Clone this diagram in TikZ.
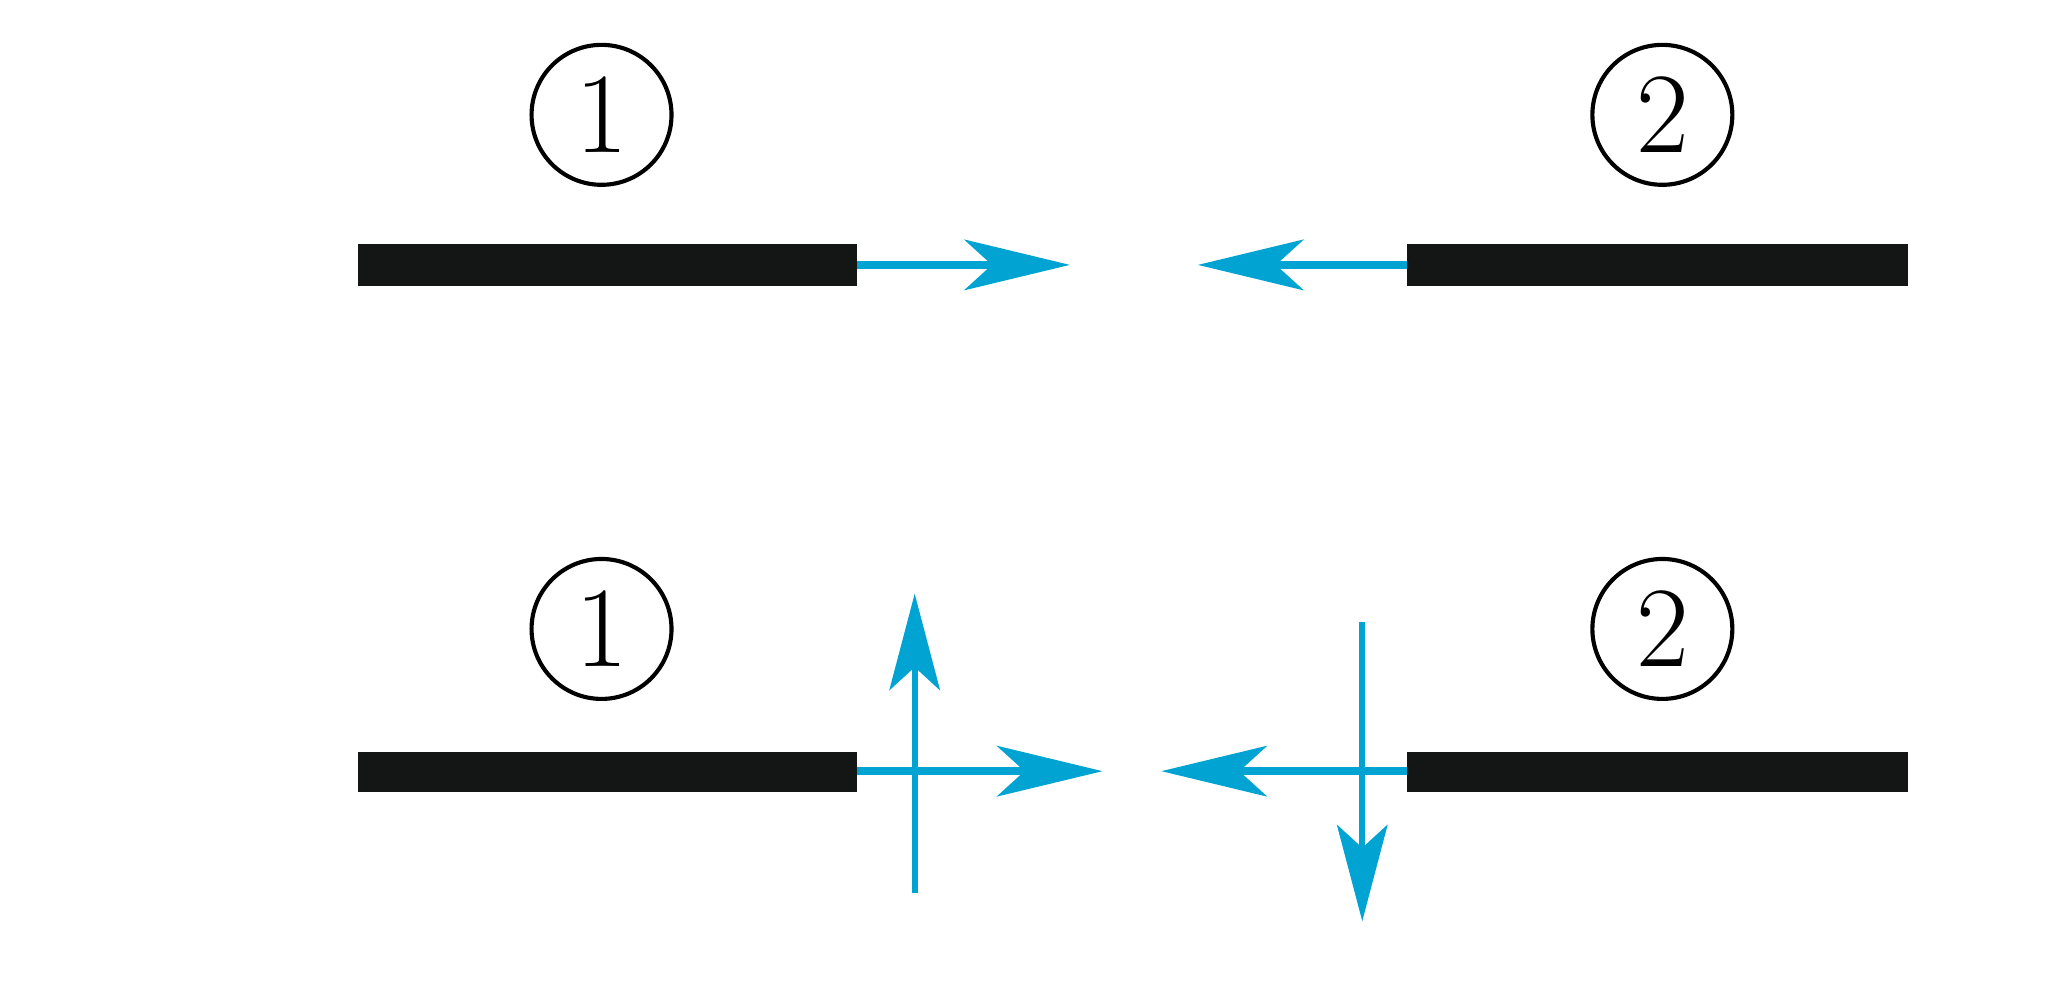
\documentclass[tikz,border=0pt]{standalone}
\usetikzlibrary{arrows.meta}
\definecolor{cy}{HTML}{00A3D2}
\definecolor{bk}{HTML}{141615}
\begin{document}
\begin{tikzpicture}[x=0.01cm,y=-0.01cm,
  bar/.style={fill=bk,draw=none},
  harr/.style={cy,line width=1.7pt,-{Stealth[length=23pt,width=11pt,inset=6pt]}},
  varr/.style={cy,line width=1.3pt,-{Stealth[length=21pt,width=11pt,inset=5pt]}},
  num/.style={circle,draw,line width=0.9pt,minimum size=30.5pt,inner sep=0pt,font=\fontsize{25}{30}\selectfont}]
\useasboundingbox (0,0) rectangle (1568,766);
% top row
\fill[bar] (274,187) rectangle (657,219);
\fill[bar] (1078,187) rectangle (1462,219);
\coordinate (a1) at (657,203); \coordinate (a1e) at (820,203);
\coordinate (a2) at (1078,203); \coordinate (a2e) at (918,203);
\draw[harr] (a1) -- (a1e);
\draw[harr] (a2) -- (a2e);
\node[num] (n1) at (461,88) {1};
\node[num] (n2) at (1274,88) {2};
% bottom row
\fill[bar] (274,576) rectangle (657,607);
\fill[bar] (1078,576) rectangle (1462,607);
\coordinate (b1) at (657,591); \coordinate (b1e) at (845,591);
\coordinate (b2) at (1078,591); \coordinate (b2e) at (890,591);
\draw[harr] (b1) -- (b1e);
\draw[harr] (b2) -- (b2e);
\coordinate (v1) at (701,684); \coordinate (v1e) at (701,455);
\coordinate (v2) at (1044,477); \coordinate (v2e) at (1044,706);
\draw[varr] (v1) -- (v1e);
\draw[varr] (v2) -- (v2e);
\node[num] (m1) at (461,482) {1};
\node[num] (m2) at (1274,482) {2};
\end{tikzpicture}
\end{document}
